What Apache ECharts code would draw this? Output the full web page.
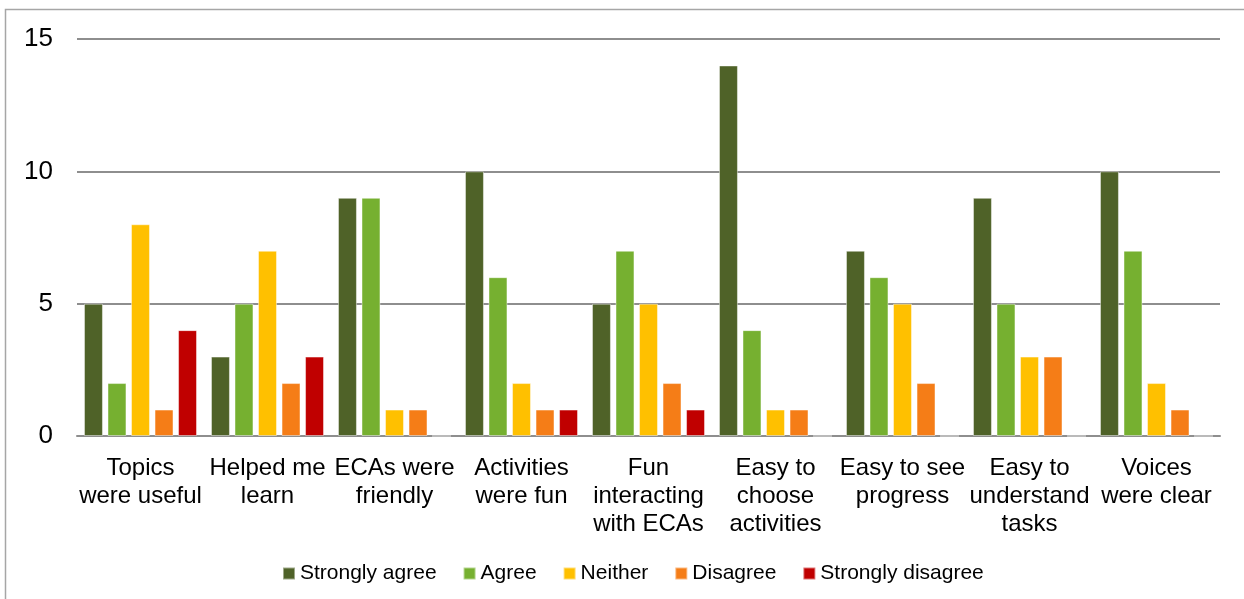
<!DOCTYPE html>
<html>
<head>
<meta charset="utf-8">
<script src="https://cdn.jsdelivr.net/npm/echarts@6/dist/echarts.min.js"></script>
<style>
  html, body { margin: 0; padding: 0; background: #fff; }
  #chart { width: 1244px; height: 599px; }
</style>
</head>
<body>
<div id="chart"></div>
<script>
// Survey statements (x axis)
const categories = [
  'Topics\nwere useful',
  'Helped me\nlearn',
  'ECAs were\nfriendly',
  'Activities\nwere fun',
  'Fun\ninteracting\nwith ECAs',
  'Easy to\nchoose\nactivities',
  'Easy to see\nprogress',
  'Easy to\nunderstand\ntasks',
  'Voices\nwere clear'
];

// Response counts per statement
const stronglyAgree    = [5, 3, 9, 10, 5, 14, 7, 9, 10];
const agree            = [2, 5, 9, 6, 7, 4, 6, 5, 7];
const neither          = [8, 7, 1, 2, 5, 1, 5, 3, 2];
const disagree         = [1, 2, 1, 1, 2, 1, 2, 3, 1];
const stronglyDisagree = [4, 3, 0, 1, 1, 0, 0, 0, 0];

const seriesNames = ['Strongly agree', 'Agree', 'Neither', 'Disagree', 'Strongly disagree'];
const seriesData = [stronglyAgree, agree, neither, disagree, stronglyDisagree];
const colors = ['#4F6228', '#76B030', '#FFC000', '#F57D17', '#C00000'];

const FONT = '"Liberation Sans", Arial, sans-serif';

const chart = echarts.init(document.getElementById('chart'), null, { renderer: 'canvas' });

chart.setOption({
  animation: false,
  color: colors,
  textStyle: { fontFamily: FONT },
  graphic: [{
    type: 'rect',
    shape: { x: 5.5, y: 9.5, width: 1300, height: 700 },
    style: { fill: 'none', stroke: '#A6A6A6', lineWidth: 1.5 },
    silent: true,
    z: -1
  }],
  grid: { left: 77, right: 24, top: 39, bottom: 163, containLabel: false },
  legend: {
    data: seriesNames,
    bottom: 15,
    left: 282,
    padding: 0,
    icon: 'rect',
    itemWidth: 12,
    itemHeight: 12,
    itemGap: 26,
    textStyle: { fontFamily: FONT, fontSize: 21, color: '#000' }
  },
  xAxis: {
    type: 'category',
    data: categories,
    axisLine: { lineStyle: { color: '#8E8E8E', width: 2 } },
    axisTick: { show: false },
    axisLabel: {
      interval: 0,
      margin: 18,
      fontFamily: FONT,
      fontSize: 24,
      lineHeight: 28,
      color: '#000'
    }
  },
  yAxis: {
    type: 'value',
    min: 0,
    max: 15,
    interval: 5,
    axisLine: { show: false },
    axisTick: { show: false },
    splitLine: { lineStyle: { color: '#8E8E8E', width: 2 } },
    axisLabel: { margin: 24, fontFamily: FONT, fontSize: 26, color: '#000' }
  },
  series: seriesNames.map((name, i) => ({
    name,
    type: 'bar',
    data: seriesData[i],
    barGap: '24%',
    barCategoryGap: '11%',
    itemStyle: { color: colors[i], borderColor: 'rgba(255,255,255,0.45)', borderWidth: 1 }
  }))
});
</script>
</body>
</html>
